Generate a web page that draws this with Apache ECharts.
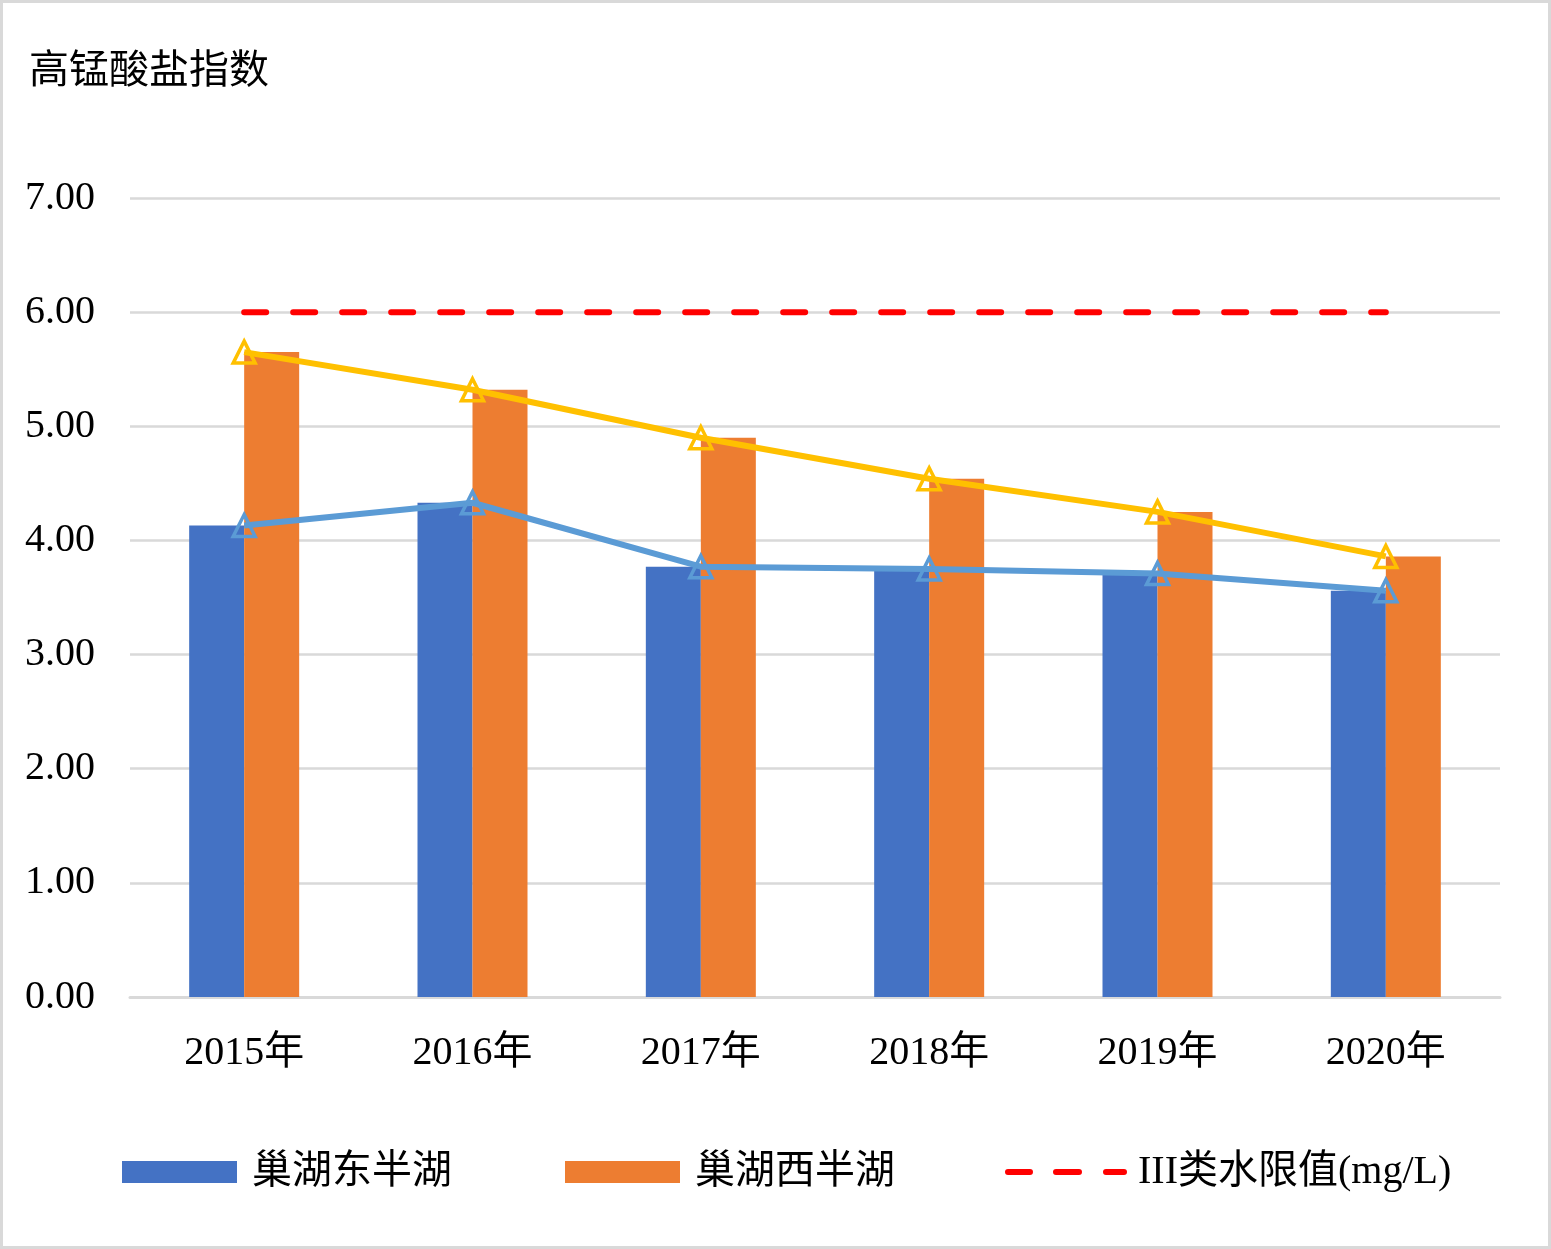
<!DOCTYPE html>
<html>
<head>
<meta charset="utf-8">
<script src="https://cdn.jsdelivr.net/npm/echarts@6/dist/echarts.min.js"></script>
<style>
html,body{margin:0;padding:0;background:#fff;}
#frame{position:absolute;left:0;top:0;width:1551px;height:1249px;box-sizing:border-box;border:3px solid #d9d9d9;}
#chart{position:absolute;left:0;top:0;width:1551px;height:1249px;}
</style>
</head>
<body>
<div id="frame"></div>
<div id="chart"></div>
<script>
const categories = ['2015年','2016年','2017年','2018年','2019年','2020年'];
const eastValues = [4.13, 4.33, 3.77, 3.75, 3.71, 3.56];
const westValues = [5.65, 5.32, 4.90, 4.54, 4.25, 3.86];
const limitValues = [6, 6, 6, 6, 6, 6];
const yTicks = [0, 1, 2, 3, 4, 5, 6, 7];

const FONT = "'Liberation Serif', 'Times New Roman', 'Noto Sans CJK SC', serif";
const chart = echarts.init(document.getElementById('chart'));
const legendText = {fontFamily: FONT, fontSize: 40, color: '#000', padding: [0, 0, 0, 10]};
const dashIcon = 'path://M3,0H25A3,3 0 0 1 25,6H3A3,3 0 0 1 3,0Z M51,0H74A3,3 0 0 1 74,6H51A3,3 0 0 1 51,0Z M101,0H119A3,3 0 0 1 119,6H101A3,3 0 0 1 101,0Z';
chart.setOption({
  animation: false,
  title: {
    text: '高锰酸盐指数', left: 24, top: 48,
    textStyle: {fontFamily: FONT, fontSize: 40, fontWeight: 'normal', color: '#000'}
  },
  legend: [
    {data: [{name: '巢湖东半湖', icon: 'rect'}], left: 117, top: 1147, itemWidth: 115, itemHeight: 22, textStyle: legendText},
    {data: [{name: '巢湖西半湖', icon: 'rect'}], left: 560, top: 1147, itemWidth: 115, itemHeight: 22, textStyle: legendText},
    {data: [{name: 'III类水限值(mg/L)', icon: dashIcon, itemStyle: {color: '#FF0000'}}], left: 1000, top: 1147, itemWidth: 122, itemHeight: 6,
      textStyle: Object.assign({}, legendText, {padding: [0, 0, 0, 6]})}
  ],
  grid: {left: 130, right: 51, top: 198, bottom: 252, containLabel: false},
  xAxis: {
    type: 'category', data: categories,
    axisLine: {lineStyle: {color: '#d9d9d9', width: 3}},
    axisTick: {show: false},
    axisLabel: {fontFamily: FONT, fontSize: 40, color: '#000', margin: 36}
  },
  yAxis: {
    type: 'value', min: yTicks[0], max: yTicks[yTicks.length - 1], interval: 1,
    axisLine: {show: false}, axisTick: {show: false},
    splitLine: {lineStyle: {color: '#d9d9d9', width: 2.5}},
    axisLabel: {fontFamily: FONT, fontSize: 40, color: '#000', margin: 35, formatter: v => v.toFixed(2)}
  },
  series: [
    {name: '巢湖东半湖', type: 'bar', data: eastValues, barWidth: 55, barGap: '0%', itemStyle: {color: '#4472C4'}, z: 1},
    {name: '巢湖西半湖', type: 'bar', data: westValues, barWidth: 55, barGap: '0%', itemStyle: {color: '#ED7D31'}, z: 1},
    {name: '东半湖趋势', type: 'line', data: eastValues, symbol: 'triangle', symbolSize: 22,
      itemStyle: {color: 'rgba(255,255,255,0)', borderColor: '#5B9BD5', borderWidth: 3.5},
      lineStyle: {color: '#5B9BD5', width: 6}, z: 3},
    {name: '西半湖趋势', type: 'line', data: westValues, symbol: 'triangle', symbolSize: 22,
      itemStyle: {color: 'rgba(255,255,255,0)', borderColor: '#FFC000', borderWidth: 3.5},
      lineStyle: {color: '#FFC000', width: 6}, z: 3},
    {name: 'III类水限值(mg/L)', type: 'line', data: limitValues, symbol: 'none',
      itemStyle: {color: '#FF0000'},
      lineStyle: {color: '#FF0000', width: 6, type: [22, 27], cap: 'round'}, z: 4}
  ]
});
</script>
</body>
</html>
